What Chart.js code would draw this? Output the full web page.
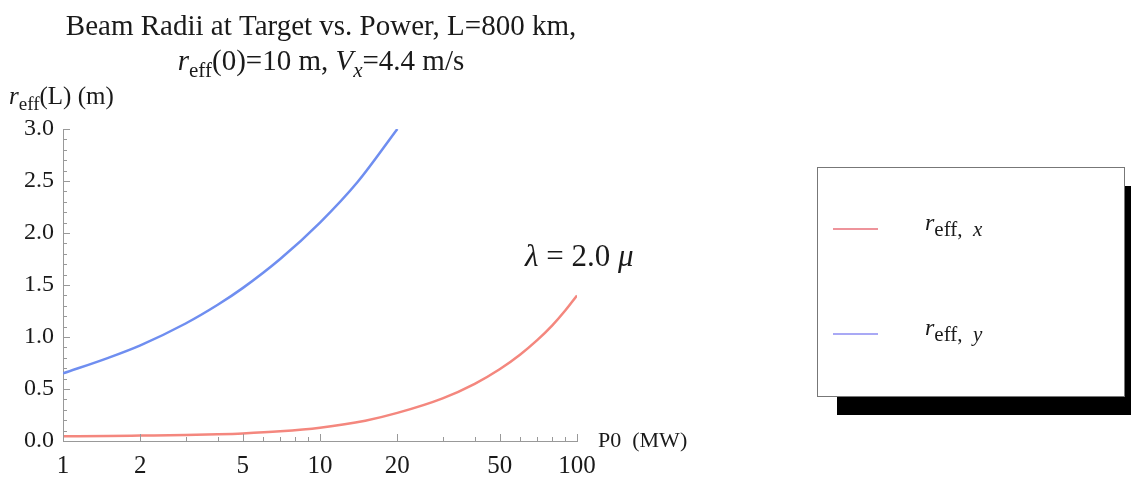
<!DOCTYPE html>
<html>
<head>
<meta charset="utf-8">
<script src="https://cdn.jsdelivr.net/npm/chart.js@4.4.1/dist/chart.umd.min.js"></script>
<style>
    body { margin: 0; background: #fff; }
    #wrap { width: 1131px; height: 478px; }
</style>
</head>
<body>
<div id="wrap"><canvas id="beamChart" width="1131" height="478"></canvas></div>
<script>
// Veriler (P0 in MW, radii in m)
const powerX = [1, 1.5, 2, 3, 4, 5, 7, 10, 15, 20, 30, 40, 50, 60, 70, 80, 90, 100];
const reffX = [0.045, 0.048, 0.052, 0.058, 0.065, 0.073, 0.093, 0.128, 0.195, 0.27, 0.41, 0.55, 0.69, 0.83, 0.97, 1.11, 1.255, 1.4];
const powerY = [1, 1.5, 2, 3, 4, 5, 7, 10, 14, 20];
const reffY = [0.65, 0.80, 0.92, 1.13, 1.31, 1.47, 1.75, 2.10, 2.49, 3.0];
const xTickValues = [1, 2, 5, 10, 20, 50, 100];
const xMinorTicks = [3, 4, 6, 7, 8, 9, 30, 40, 60, 70, 80, 90];
const yTickValues = [0, 0.5, 1, 1.5, 2, 2.5, 3];

const SERIF = '"Liberation Serif", "DejaVu Serif", serif';
const redLine = '#f4877e';
const blueLine = '#6f8ef0';

// zengin metin: alt simge ve italik parçalar
function drawRich(ctx, parts, x, y, align) {
    let total = 0;
    parts.forEach(p => {
        ctx.font = (p.italic ? 'italic ' : '') + p.size + 'px ' + SERIF;
        p.w = ctx.measureText(p.t).width;
        total += p.w;
    });
    let cx = align === 'center' ? x - total / 2 : x;
    parts.forEach(p => {
        ctx.font = (p.italic ? 'italic ' : '') + p.size + 'px ' + SERIF;
        ctx.fillText(p.t, cx, y + (p.dy || 0));
        cx += p.w;
    });
}

const decorPlugin = {
    id: 'decor',
    afterDraw(chart) {
        const ctx = chart.ctx;
        const xs = chart.scales.x, ys = chart.scales.y;
        const area = chart.chartArea;
        ctx.save();

        // tick marks pointing inward
        ctx.strokeStyle = '#999';
        ctx.lineWidth = 1;
        ctx.beginPath();
        for (let i = 0; i <= 30; i++) {
            const py = Math.round(ys.getPixelForValue(i / 10)) + 0.5;
            const len = i % 5 === 0 ? 7 : 4;
            ctx.moveTo(area.left, py);
            ctx.lineTo(area.left + len, py);
        }
        xTickValues.forEach(v => {
            const px = Math.round(xs.getPixelForValue(v)) + 0.5;
            ctx.moveTo(px, area.bottom);
            ctx.lineTo(px, area.bottom - 7);
        });
        xMinorTicks.forEach(v => {
            const px = Math.round(xs.getPixelForValue(v)) + 0.5;
            ctx.moveTo(px, area.bottom);
            ctx.lineTo(px, area.bottom - 4);
        });
        ctx.stroke();

        ctx.fillStyle = '#1a1a1a';
        ctx.textBaseline = 'alphabetic';
        ctx.textAlign = 'left';

        // başlık
        drawRich(ctx, [{ t: 'Beam Radii at Target vs. Power, L=800 km,', size: 29 }], 321, 35, 'center');
        drawRich(ctx, [
            { t: 'r', size: 29, italic: true },
            { t: 'eff', size: 21, dy: 7 },
            { t: '(0)=10 m, ', size: 29 },
            { t: 'V', size: 29, italic: true },
            { t: 'x', size: 21, italic: true, dy: 7 },
            { t: '=4.4 m/s', size: 29 }
        ], 321, 70, 'center');

        // eksen etiketleri
        drawRich(ctx, [
            { t: 'r', size: 25, italic: true },
            { t: 'eff', size: 19, dy: 6 },
            { t: '(L) (m)', size: 25 }
        ], 9, 104, 'left');
        drawRich(ctx, [{ t: 'P0  (MW)', size: 22 }], area.right + 21, area.bottom + 6, 'left');

        // dalga boyu notu
        drawRich(ctx, [
            { t: 'λ', size: 31, italic: true },
            { t: ' = 2.0 ', size: 31 },
            { t: 'μ', size: 31, italic: true }
        ], 525, 266, 'left');

        // legend box with shadow
        ctx.fillStyle = '#000';
        ctx.fillRect(837, 186, 300, 229);
        ctx.fillStyle = '#fff';
        ctx.fillRect(817, 167, 308, 230);
        ctx.strokeStyle = '#777';
        ctx.strokeRect(817.5, 167.5, 307, 229);

        const legendItems = [
            { color: '#e8707a', sub: 'x', y: 229 },
            { color: '#8c8cf2', sub: 'y', y: 334 }
        ];
        legendItems.forEach(item => {
            ctx.strokeStyle = item.color;
            ctx.lineWidth = 1.5;
            ctx.beginPath();
            ctx.moveTo(833, item.y);
            ctx.lineTo(878, item.y);
            ctx.stroke();
            ctx.fillStyle = '#1a1a1a';
            drawRich(ctx, [
                { t: 'r', size: 24, italic: true },
                { t: 'eff,  ', size: 21, dy: 6 },
                { t: item.sub, size: 21, italic: true, dy: 6 }
            ], 925, item.y + 1, 'left');
        });

        ctx.restore();
    }
};

const ctx = document.getElementById('beamChart').getContext('2d');
const beamChart = new Chart(ctx, {
    type: 'line',
    data: {
        datasets: [{
            label: 'r_eff,x',
            data: powerX.map((p, i) => ({ x: p, y: reffX[i] })),
            borderColor: redLine,
            borderWidth: 2.5,
            pointRadius: 0,
            cubicInterpolationMode: 'monotone',
            fill: false
        }, {
            label: 'r_eff,y',
            data: powerY.map((p, i) => ({ x: p, y: reffY[i] })),
            borderColor: blueLine,
            borderWidth: 2.5,
            pointRadius: 0,
            cubicInterpolationMode: 'monotone',
            fill: false
        }]
    },
    options: {
        responsive: false,
        animation: false,
        layout: { padding: { left: 0, top: 129, right: 554, bottom: 0 } },
        plugins: {
            legend: { display: false },
            title: { display: false },
            tooltip: { enabled: false }
        },
        scales: {
            x: {
                type: 'logarithmic',
                min: 1,
                max: 100,
                grid: { display: false, drawTicks: false },
                border: { display: true, color: '#999', width: 1 },
                afterBuildTicks: scale => {
                    scale.ticks = xTickValues.map(v => ({ value: v }));
                },
                afterFit: scale => { scale.height = 37; },
                ticks: {
                    autoSkip: false,
                    maxRotation: 0,
                    padding: 10,
                    color: '#1a1a1a',
                    font: { family: SERIF, size: 25 },
                    callback: v => String(v)
                }
            },
            y: {
                min: 0,
                max: 3,
                grid: { display: false, drawTicks: false },
                border: { display: true, color: '#999', width: 1 },
                afterBuildTicks: scale => {
                    scale.ticks = yTickValues.map(v => ({ value: v }));
                },
                afterFit: scale => { scale.width = 63; },
                ticks: {
                    padding: 9,
                    color: '#1a1a1a',
                    font: { family: SERIF, size: 24 },
                    callback: v => Number(v).toFixed(1)
                }
            }
        }
    },
    plugins: [decorPlugin]
});
</script>
</body>
</html>
